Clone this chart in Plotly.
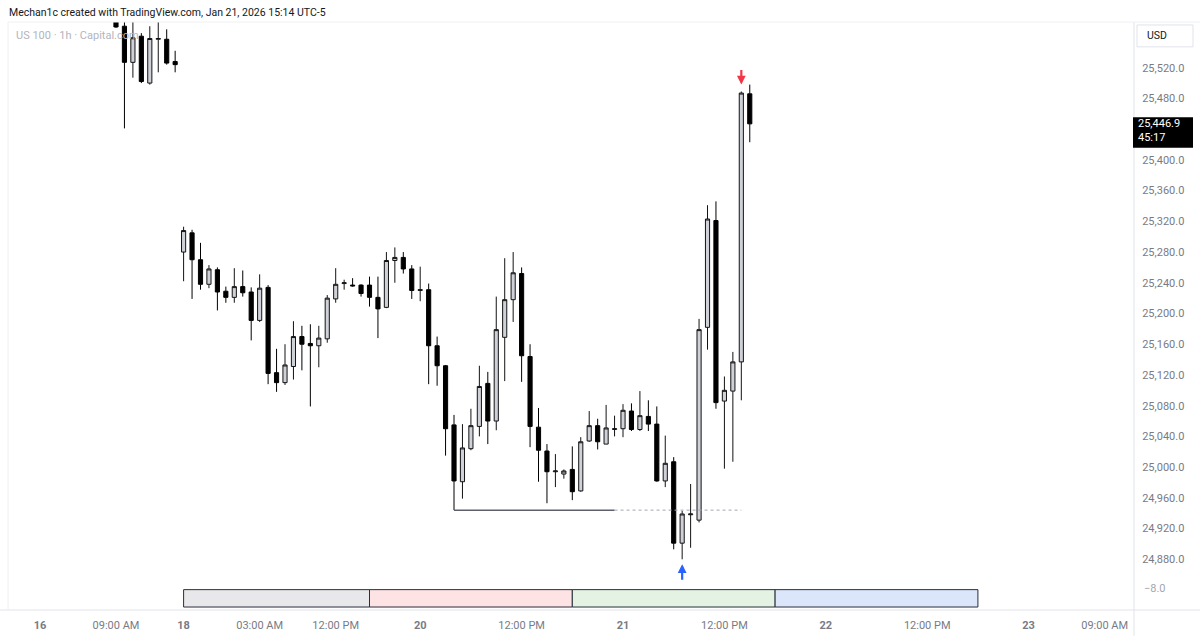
import plotly.graph_objects as go

# US 100 CFD, 1h bars (UTC-5). Bar index 0 = Jan 16 09:00, session gaps removed
first_bar = 0
opens = [25605, 25574, 25527, 25561, 25500, 25557, 25557, 25528,
         25280, 25305, 25270, 25238, 25257, 25229, 25221, 25235, 25228, 25191,
         25234, 25123, 25110, 25131, 25170, 25161, 25158, 25167, 25219, 25239,
         25237, 25237, 25237, 25221, 25208, 25269, 25273, 25258, 25230, 25231,
         25158, 25132, 25055, 24981, 25024, 25053, 25109, 25060, 25169, 25218,
         25252, 25144, 25052, 25021, 24994, 24991, 24997, 24969, 25034, 25054,
         25030, 25049, 25050, 25073, 25049, 25066, 25056, 24982, 25007, 24901,
         24938, 24931, 25182, 25321, 25086, 25099, 25137, 25486]
highs = [25615, 25600, 25590, 25565, 25574, 25590, 25570, 25542,
         25313, 25309, 25292, 25263, 25260, 25235, 25259, 25256, 25234, 25251,
         25237, 25154, 25160, 25190, 25184, 25186, 25184, 25224, 25259, 25244,
         25246, 25238, 25248, 25248, 25280, 25286, 25280, 25263, 25261, 25239,
         25170, 25133, 25068, 25056, 25076, 25132, 25124, 25222, 25272, 25280,
         25260, 25160, 25077, 25030, 25017, 24997, 25027, 25039, 25073, 25063,
         25081, 25067, 25082, 25083, 25099, 25087, 25079, 25041, 25013, 24943,
         24978, 25193, 25341, 25346, 25118, 25150, 25489, 25498]
lows = [25572, 25441, 25507, 25500, 25498, 25514, 25524, 25514,
        25242, 25219, 25231, 25233, 25204, 25214, 25214, 25222, 25165, 25189,
        25108, 25098, 25107, 25114, 25126, 25079, 25130, 25162, 25214, 25231,
        25235, 25222, 25209, 25168, 25207, 25240, 25252, 25219, 25216, 25108,
        25106, 25015, 24944, 24959, 25022, 25040, 25030, 25048, 25112, 25189,
        25111, 25026, 24981, 24953, 24974, 24985, 24957, 24968, 25033, 25023,
        25030, 25040, 25039, 25047, 25047, 25047, 24981, 24974, 24893, 24880,
        24895, 24928, 25153, 25076, 24998, 25007, 25087, 25423]
closes = [25573, 25527, 25559, 25502, 25558, 25558, 25526, 25524,
          25308, 25270, 25238, 25258, 25228, 25221, 25235, 25227, 25191, 25233,
          25122, 25110, 25133, 25170, 25160, 25158, 25168, 25220, 25238, 25240,
          25236, 25226, 25221, 25206, 25269, 25273, 25258, 25230, 25231, 25158,
          25132, 25050, 24982, 25025, 25054, 25105, 25060, 25179, 25218, 25253,
          25145, 25053, 25022, 24994, 24995, 24995, 24968, 25033, 25054, 25033,
          25051, 25050, 25074, 25049, 25067, 25056, 24982, 25005, 24901, 24939,
          24939, 25179, 25323, 25084, 25100, 25137, 25487, 25446.9]
bars = list(range(first_bar, first_bar + len(opens)))

# 25,440 is hidden behind the last-price label
price_ticks = [24880, 24920, 24960, 25000, 25040, 25080, 25120, 25160,
               25200, 25240, 25280, 25320, 25360, 25400, 25480, 25520]
time_tick_bars = [-9, 0, 8, 17, 26, 36, 48, 60, 72, 84, 96, 108, 117]
time_tick_labels = ["<b>16</b>", "09:00 AM", "<b>18</b>", "03:00 AM", "12:00 PM",
                    "<b>20</b>", "12:00 PM", "<b>21</b>", "12:00 PM",
                    "<b>22</b>", "12:00 PM", "<b>23</b>", "09:00 AM"]

# day session boxes (bar index edges) and their fills
session_edges = [8, 30, 54, 78, 102]
session_fills = ["#e8e8eb", "#fde3e4", "#e3f2e3", "#dbe6fa"]

# liquidity line drawn from the Jan 20 low
sweep_level = 24944
sweep_solid = [40, 59]
sweep_dotted = [59, 74]

last_price = 25446.9
countdown = "45:17"
arrow_up_bar = 67
arrow_down_bar = 74

# chart frame in pixels
W, H = 1200, 640
PL, PR, PT, PB = 8, 1134, 22, 614
FONT = "Roboto, Open Sans, sans-serif"
GREY = "#787b86"
BORDER = "#e0e3eb"


def px_x(x):
    return (x - PL) / (PR - PL)


def px_y(y):
    return (PB - y) / (PB - PT)


fig = go.Figure()

fig.add_trace(go.Candlestick(
    x=bars, open=opens, high=highs, low=lows, close=closes,
    increasing=dict(line=dict(color="#131313", width=1), fillcolor="#cfd1d8"),
    decreasing=dict(line=dict(color="#000000", width=1), fillcolor="#000000"),
    hoverinfo="skip",
))

fig.add_trace(go.Scatter(
    x=sweep_solid, y=[sweep_level] * 2, mode="lines",
    line=dict(color="#5d606b", width=1.5), hoverinfo="skip",
))
fig.add_trace(go.Scatter(
    x=sweep_dotted, y=[sweep_level] * 2, mode="lines",
    line=dict(color="#a3a6af", width=1, dash="dot"), hoverinfo="skip",
))

shapes = []
for i, fill in enumerate(session_fills):
    shapes.append(dict(
        type="rect", xref="x", yref="paper",
        x0=session_edges[i], x1=session_edges[i + 1],
        y0=px_y(611), y1=px_y(593.5),
        fillcolor=fill, line=dict(color="#2a2e39", width=1), layer="above",
    ))

# frame lines: bottom time axis, price axis divider, faint outer border
shapes += [
    dict(type="line", xref="paper", yref="paper", x0=px_x(0), x1=px_x(W),
         y0=0, y1=0, line=dict(color=BORDER, width=1)),
    dict(type="line", xref="paper", yref="paper", x0=1, x1=1,
         y0=px_y(H), y1=px_y(PT), line=dict(color=BORDER, width=1)),
    dict(type="line", xref="paper", yref="paper", x0=0, x1=px_x(W),
         y0=1, y1=1, line=dict(color="#eef0f3", width=1)),
    dict(type="line", xref="paper", yref="paper", x0=0, x1=0,
         y0=0, y1=1, line=dict(color="#eef0f3", width=1)),
    # USD box
    dict(type="rect", xref="paper", yref="paper",
         x0=px_x(1137), x1=px_x(1193), y0=px_y(47), y1=px_y(25),
         fillcolor="white", line=dict(color=BORDER, width=1)),
    # last price label
    dict(type="rect", xref="paper", yref="y", ysizemode="pixel",
         yanchor=last_price, y0=-24, y1=6.5,
         x0=px_x(1133), x1=px_x(1193),
         fillcolor="#000000", line=dict(width=0), layer="above"),
]

annotations = [
    dict(text="Mechan1c created with TradingView.com, Jan 21, 2026 15:14 UTC-5",
         xref="paper", yref="paper", x=px_x(7), y=px_y(12),
         xanchor="left", yanchor="middle", showarrow=False,
         font=dict(family=FONT, size=10.5, color="#131722")),
    dict(text="US 100 · 1h · Capital.com",
         xref="paper", yref="paper", x=px_x(14), y=px_y(36),
         xanchor="left", yanchor="middle", showarrow=False,
         font=dict(family=FONT, size=11, color="#b2b5be")),
    dict(text="USD", xref="paper", yref="paper", x=px_x(1145), y=px_y(36),
         xanchor="left", yanchor="middle", showarrow=False,
         font=dict(family=FONT, size=10.5, color="#131722")),
    dict(text="−8.0", xref="paper", yref="paper", x=px_x(1142), y=px_y(592),
         xanchor="left", yanchor="middle", showarrow=False,
         font=dict(family=FONT, size=11, color="#a3a6af")),
    dict(text=f"{last_price:,.1f}<br>{countdown}", xref="paper", yref="y",
         x=px_x(1137), y=last_price, xanchor="left", yanchor="top",
         yshift=7.5, align="left", borderpad=0,
         showarrow=False, font=dict(family=FONT, size=11, color="white")),
    dict(x=arrow_down_bar, y=highs[arrow_down_bar - first_bar], xref="x", yref="y",
         text="", showarrow=True, ax=0, ay=-23, standoff=7,
         arrowhead=2, arrowsize=0.8, arrowwidth=2.2, arrowcolor="#f23645"),
    dict(x=arrow_up_bar, y=lows[arrow_up_bar - first_bar], xref="x", yref="y",
         text="", showarrow=True, ax=0, ay=22, standoff=5,
         arrowhead=2, arrowsize=0.8, arrowwidth=2.2, arrowcolor="#2962ff"),
]

fig.update_layout(
    width=W, height=H,
    margin=dict(l=PL, r=W - PR, t=PT, b=H - PB),
    paper_bgcolor="white", plot_bgcolor="white",
    showlegend=False, hovermode=False,
    font=dict(family=FONT, size=11, color=GREY),
    xaxis=dict(
        range=[-12.78, 120.47], rangeslider=dict(visible=False),
        tickmode="array", tickvals=time_tick_bars, ticktext=time_tick_labels,
        ticks="outside", ticklen=5, tickcolor="rgba(0,0,0,0)",
        showgrid=False, zeroline=False, showline=False,
        tickfont=dict(family=FONT, size=11, color=GREY),
    ),
    yaxis=dict(
        range=[24814, 25579.5], side="right",
        tickmode="array", tickvals=price_ticks, tickformat=",.1f",
        ticks="outside", ticklen=5, tickcolor="rgba(0,0,0,0)",
        showgrid=False, zeroline=False, showline=False,
        tickfont=dict(family=FONT, size=11, color=GREY),
    ),
    shapes=shapes,
    annotations=annotations,
)

# page body has a default 8px margin; drop it so the figure sits at (0, 0)
fig.write_html("out.html", config={"displayModeBar": False},
               post_script="document.body.style.margin='0';")
